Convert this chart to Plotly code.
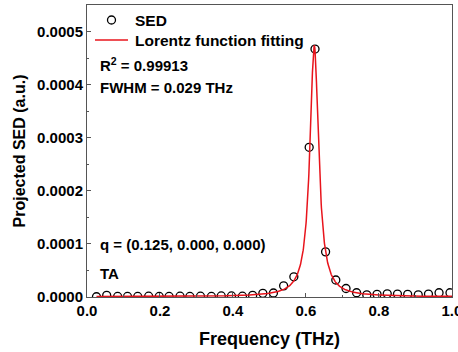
import numpy as np
import plotly.graph_objects as go

# SED data points (frequency in THz, projected SED in a.u.)
freq = [0.026, 0.054, 0.084, 0.111, 0.139, 0.169, 0.198, 0.225, 0.255, 0.282,
        0.311, 0.341, 0.368, 0.396, 0.426, 0.454, 0.482, 0.511, 0.539, 0.567,
        0.609, 0.625, 0.654, 0.682, 0.710, 0.739, 0.767, 0.795, 0.823, 0.851,
        0.879, 0.908, 0.936, 0.965, 0.995]
sed = [0.5e-6, 3.0e-6, 1.0e-6, 1.0e-6, 1.0e-6, 1.5e-6, 1.0e-6, 1.0e-6, 1.5e-6, 1.0e-6,
       1.5e-6, 1.0e-6, 2.0e-6, 2.0e-6, 1.5e-6, 3.0e-6, 7.0e-6, 7.5e-6, 21e-6, 38e-6,
       282e-6, 467e-6, 85e-6, 32e-6, 16e-6, 8e-6, 4e-6, 5e-6, 6e-6, 5.5e-6,
       5e-6, 4e-6, 5.5e-6, 8e-6, 8e-6]

# Lorentz fit parameters
fit_y0 = 0.5e-6
fit_xc = 0.623
fit_w = 0.029
fit_peak = 0.000474

xfit = np.linspace(0.026, 1.0, 1500)
yfit = fit_y0 + (fit_peak - fit_y0) / (1 + (2 * (xfit - fit_xc) / fit_w) ** 2)

x_ticks = [0.0, 0.2, 0.4, 0.6, 0.8, 1.0]
y_ticks = [0.0, 0.0001, 0.0002, 0.0003, 0.0004, 0.0005]

legend_names = ["SED", "Lorentz function fitting"]

FONT = "Liberation Sans, Arial, sans-serif"
RED = "#e8141c"

fig = go.Figure()
fig.add_trace(go.Scatter(
    x=freq, y=sed, mode="markers", name=legend_names[0], showlegend=False,
    marker=dict(symbol="circle-open", size=8, color="black", line=dict(width=1.3, color="black")),
))
fig.add_trace(go.Scatter(
    x=xfit, y=yfit, mode="lines", name=legend_names[1], showlegend=False,
    line=dict(color=RED, width=1.5),
))

# manual legend (paper coordinates)
leg_rows_y = [0.9486, 0.880]
leg_sym_x = [0.0219, 0.1123]
leg_text_x = 0.126
fig.add_shape(type="circle", xref="paper", yref="paper", xsizemode="pixel", ysizemode="pixel",
              xanchor=(leg_sym_x[0] + leg_sym_x[1]) / 2, yanchor=leg_rows_y[0],
              x0=-4, x1=4, y0=-4, y1=4, line=dict(color="black", width=1.3))
fig.add_shape(type="line", xref="paper", yref="paper",
              x0=leg_sym_x[0], x1=leg_sym_x[1], y0=leg_rows_y[1], y1=leg_rows_y[1],
              line=dict(color=RED, width=1.5))
for name, yv in zip(legend_names, leg_rows_y):
    fig.add_annotation(x=leg_text_x, y=yv, xref="paper", yref="paper", text=f"<b>{name}</b>",
                       showarrow=False, xanchor="left", yanchor="middle",
                       font=dict(family=FONT, size=15.5, color="black"))

annots = [
    ("<b>R<sup>2</sup> = 0.99913</b>", 0.000437),
    ("<b>FWHM = 0.029 THz</b>", 0.000394),
    ("<b>q = (0.125, 0.000, 0.000)</b>", 0.0000985),
    ("<b>TA</b>", 0.0000452),
]
for txt, yv in annots:
    fig.add_annotation(x=0.029, y=yv, xref="x", yref="y", text=txt, showarrow=False,
                       xanchor="left", yanchor="middle",
                       font=dict(family=FONT, size=15, color="black"))

fig.update_layout(
    width=458, height=352,
    margin=dict(l=87, r=6, t=5, b=55, autoexpand=False),
    paper_bgcolor="white", plot_bgcolor="white",
    font=dict(family=FONT, size=14, color="black"),
    showlegend=False,
)
fig.update_xaxes(
    range=[0, 1.0005], tickvals=x_ticks, tickformat=".1f", ticklabeloverflow="allow",
    automargin=False,
    ticks="inside", ticklen=4, tickcolor="#555", showline=True, linecolor="#555",
    linewidth=1, mirror=True, showgrid=False, zeroline=False,
    minor=dict(ticks="inside", ticklen=2, dtick=0.1, tickcolor="#555"),
    tickfont=dict(family=FONT, size=15, color="black", weight="bold"),
    title=dict(text="<b>Frequency (THz)</b>", font=dict(family=FONT, size=18, color="black"), standoff=14),
)
fig.update_yaxes(
    range=[0, 0.00055], tickvals=y_ticks, tickformat=".4f",
    automargin=False,
    ticks="inside", ticklen=4, tickcolor="#555", showline=True, linecolor="#555",
    linewidth=1, mirror=True, showgrid=False, zeroline=False,
    minor=dict(ticks="inside", ticklen=2, dtick=0.00005, tickcolor="#555"),
    tickfont=dict(family=FONT, size=15, color="black", weight="bold"),
    title=dict(text="<b>Projected SED (a.u.)</b>", font=dict(family=FONT, size=16, color="black"), standoff=7),
)

fig.write_html("out.html")
